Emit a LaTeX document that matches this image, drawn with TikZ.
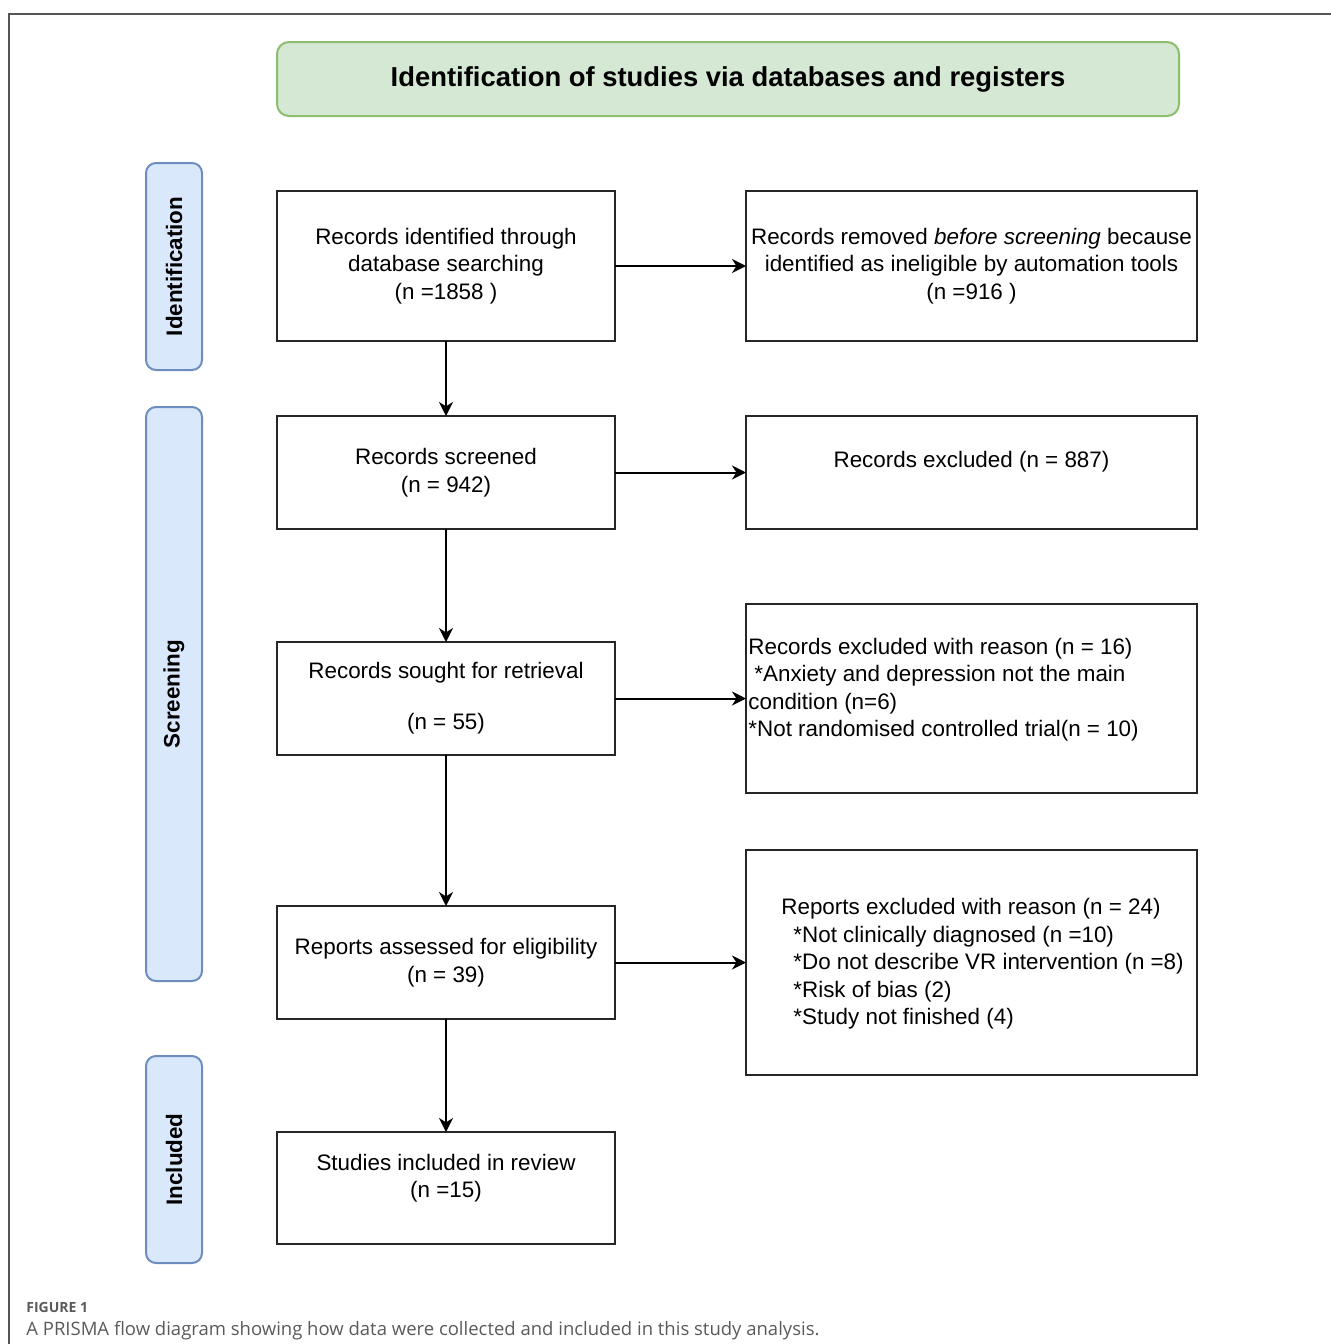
\documentclass[tikz,border=0pt]{standalone}
\usepackage{fontspec}
\setmainfont{Liberation Sans}
\newfontfamily\capfont{Open Sans}
\usetikzlibrary{arrows.meta,positioning}
\definecolor{headfill}{RGB}{213,232,212}
\definecolor{headline}{RGB}{140,190,110}
\definecolor{phasefill}{RGB}{218,232,252}
\definecolor{phaseline}{RGB}{108,142,191}
\definecolor{framegray}{RGB}{85,85,85}
\definecolor{capgray}{RGB}{90,90,90}

\begin{document}
\begin{tikzpicture}[x=0.5pt,y=-0.5pt,
  font=\fontsize{11.2}{13.75}\selectfont,
  box/.style={draw=black!85, line width=1pt, inner sep=0pt, outer sep=0pt, align=center},
  leftbox/.style={box, minimum width=169pt},
  rightbox/.style={box, minimum width=225.5pt},
  phase/.style={draw=phaseline, fill=phasefill, line width=1pt, rounded corners=5pt,
    rotate=90, minimum height=28pt, inner sep=0pt,
    font=\fontsize{11.2}{13.75}\selectfont\bfseries},
  flow/.style={line width=1pt, -{Stealth[length=7pt,width=7pt,inset=2.2pt]}}]
\useasboundingbox (0,0) rectangle (1331,1344);
% outer frame
\draw[framegray, line width=0.8pt] (9,1344) -- (9,14) -- (1331,14);

% heading
\node[draw=headline, fill=headfill, line width=1pt, rounded corners=6pt,
  minimum width=451pt, minimum height=37pt, inner sep=0pt,
  font=\fontsize{13.7}{16}\selectfont\bfseries] (head) at (728,79)
  {Identification of studies via databases and registers};

% phases
\node[phase, minimum width=103.5pt] (ident) at (174,266.5) {Identification};
\node[phase, minimum width=287pt]   (screen) at (174,694) {Screening};
\node[phase, minimum width=103.5pt] (incl) at (174,1159.5) {Included};

% main column
\node[leftbox, minimum height=75pt] (found) at (446,266)
  {Records identified through\\database searching\\(n =1858 )};
\node[leftbox, minimum height=56.5pt] (screened) at (446,472.5)
  {Records screened\\(n = 942)};
\node[leftbox, minimum height=56.5pt] (sought) at (446,698.5)
  {Records sought for retrieval\\[11.7pt](n = 55)};
\node[leftbox, minimum height=56.5pt] (assessed) at (446,962.5)
  {Reports assessed for eligibility\\(n = 39)};
\node[leftbox, minimum height=56pt] (studies) at (446,1188) {};
\node[align=center] (studiestxt) at (446,1178)
  {Studies included in review\\(n =15)};

% exclusions
\node[rightbox, minimum height=75pt] (removed) at (971.5,266)
  {Records removed \textit{before screening} because\\identified as ineligible by automation tools\\(n =916 )};
\node[rightbox, minimum height=56.5pt] (excl) at (971.5,472.5) {};
\node (excltxt) at (971.5,462) {Records excluded (n = 887)};
\node[rightbox, minimum height=94.5pt] (notret) at (971.5,698.5) {};
\node[anchor=west, align=left, inner sep=0pt] (notrettxt) at (748,689.5)
  {Records excluded with reason (n = 16)\\
   \hspace{3pt}*Anxiety and depression not the main\\
   condition (n=6)\\
   *Not randomised controlled trial(n = 10)};
\node[rightbox, minimum height=112.5pt] (inelig) at (971.5,962.5) {};
\node[anchor=west, align=left, inner sep=0pt] (ineligtxt) at (781,964)
  {Reports excluded with reason (n = 24)\\
   \hspace{6pt}*Not clinically diagnosed (n =10)\\
   \hspace{6pt}*Do not describe VR intervention (n =8)\\
   \hspace{6pt}*Risk of bias (2)\\
   \hspace{6pt}*Study not finished (4)};

% arrows
\draw[flow] (found) -- (screened);
\draw[flow] (screened) -- (sought);
\draw[flow] (sought) -- (assessed);
\draw[flow] (assessed) -- (studies);
\draw[flow] (found) -- (removed);
\draw[flow] (screened) -- (excl);
\draw[flow] (sought) -- (notret);
\draw[flow] (assessed) -- (inelig);

% caption
\node[anchor=west, inner sep=0pt, text=capgray, font=\capfont\fontsize{7}{8}\selectfont\bfseries]
  (figno) at (26,1307) {FIGURE 1};
\node[anchor=west, inner sep=0pt, text=capgray, font=\capfont\fontsize{9.25}{11}\selectfont]
  (figcap) at (26,1331) {A PRISMA flow diagram showing how data were collected and included in this study analysis.};
\end{tikzpicture}
\end{document}
